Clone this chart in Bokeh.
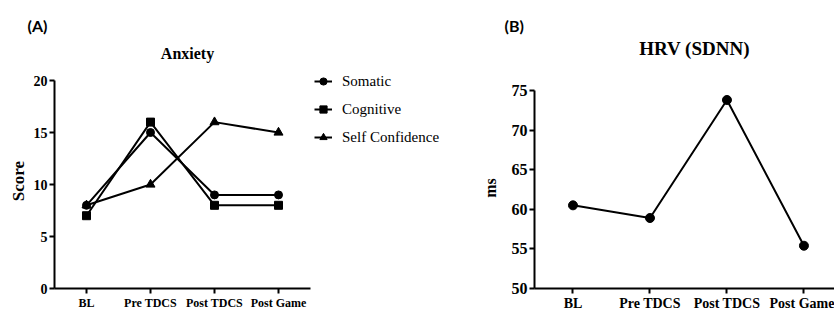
import numpy as np
from bokeh.plotting import figure
from bokeh.models import Range1d, FixedTicker, Label, Legend, LegendItem, Title
from bokeh.layouts import row
from bokeh.embed import file_html
from bokeh.resources import INLINE

# ---------------- data ----------------
categories = ["BL", "Pre TDCS", "Post TDCS", "Post Game"]
somatic = [8, 15, 9, 9]
cognitive = [7, 16, 8, 8]
self_confidence = [8, 10, 16, 15]
hrv_sdnn = [60.5, 58.9, 73.8, 55.4]
anxiety_ticks = [0, 5, 10, 15, 20]
hrv_ticks = [50, 55, 60, 65, 70, 75]

x = list(range(len(categories)))
SERIF = "Liberation Serif"
TNR = "Times New Roman"
SANS = "Lato"
NBSP = "\u00a0"


def style(p, xfs, yfs, ylabel, ylfs, yticks, ystand, xbounds, ybounds):
    p.outline_line_color = None
    p.xgrid.visible = False
    p.ygrid.visible = False
    p.background_fill_color = "white"
    p.border_fill_color = "white"
    for ax in (p.xaxis[0], p.yaxis[0]):
        ax.axis_line_width = 2
        ax.axis_line_color = "black"
        ax.major_tick_line_width = 2
        ax.major_tick_line_color = "black"
        ax.major_tick_out = 5
        ax.major_tick_in = 0
        ax.minor_tick_line_color = None
        ax.major_label_text_font = TNR
        ax.major_label_text_font_style = "bold"
        ax.major_label_text_color = "black"
        ax.major_label_standoff = 2
    p.xaxis[0].bounds = xbounds
    p.yaxis[0].bounds = ybounds
    p.xaxis[0].ticker = FixedTicker(ticks=x)
    p.xaxis[0].major_label_overrides = {i: c for i, c in enumerate(categories)}
    p.xaxis[0].major_label_text_font_size = xfs
    p.yaxis[0].ticker = FixedTicker(ticks=yticks)
    p.yaxis[0].major_label_text_font_size = yfs
    p.yaxis[0].axis_label = ylabel
    p.yaxis[0].axis_label_text_font = SERIF
    p.yaxis[0].axis_label_text_font_style = "bold"
    p.yaxis[0].axis_label_text_font_size = ylfs
    p.yaxis[0].axis_label_text_color = "black"
    p.yaxis[0].axis_label_standoff = ystand


def panel_title(text, offset):
    return Title(text=text, align="left", offset=offset, standoff=2,
                 text_font=SANS, text_font_style="bold", text_font_size="16px",
                 text_color="black")


def label(p, xx, yy, text, font, size):
    p.add_layout(Label(x=xx, y=yy, x_units="screen", y_units="screen", text=text,
                       text_font=font, text_font_style="bold", text_font_size=size,
                       text_align="center", text_baseline="middle", text_color="black"))


# ---------------- panel A ----------------
p1 = figure(width=478, height=315, x_range=Range1d(-0.5, 6.125), y_range=Range1d(0, 24.33),
            output_backend="svg", toolbar_location=None,
            title=panel_title("(A)", -27),
            min_border_left=54, min_border_right=0, min_border_top=35, min_border_bottom=27)
# trailing no-break spaces keep the rotated label centred on the drawn axis part
style(p1, "12px", "14px", "Score" + NBSP * 9, "17px", anxiety_ticks, 3, (-0.5, 3.5), (0, 20))

lw = 2
l1 = p1.line(x, somatic, line_width=lw, color="black")
s1 = p1.scatter(x, somatic, marker="circle", size=8, color="black")
l2 = p1.line(x, cognitive, line_width=lw, color="black")
s2 = p1.scatter(x, cognitive, marker="square", size=8, color="black")
l3 = p1.line(x, self_confidence, line_width=lw, color="black")
s3 = p1.scatter(x, self_confidence, marker="triangle", size=9, color="black")

legend = Legend(items=[LegendItem(label="Somatic", renderers=[l1, s1]),
                       LegendItem(label="Cognitive", renderers=[l2, s2]),
                       LegendItem(label="Self Confidence", renderers=[l3, s3])],
                location=(260, 141), orientation="vertical",
                border_line_color=None, background_fill_alpha=0,
                padding=0, margin=0, spacing=8,
                glyph_width=18, glyph_height=20, label_height=20,
                label_standoff=10, label_text_font=TNR,
                label_text_font_size="15px", label_text_color="black")
p1.add_layout(legend, "center")

label(p1, 133, 235.5, "Anxiety", SERIF, "16px")

# ---------------- panel B ----------------
p2 = figure(width=356, height=315, x_range=Range1d(-0.5, 3.397), y_range=Range1d(50, 81.94),
            output_backend="svg", toolbar_location=None,
            title=panel_title("(B)", -30),
            min_border_left=54, min_border_right=0, min_border_top=35, min_border_bottom=27)
style(p2, "14px", "16px", "ms" + NBSP * 13, "16px", hrv_ticks, 10, (-0.5, 3.5), (50, 75))

p2.line(x, hrv_sdnn, line_width=lw, color="black")
p2.scatter(x, hrv_sdnn, marker="circle", size=9, color="black")

label(p2, 160, 240, "HRV (SDNN)", SERIF, "19px")

layout = row(p1, p2)
open("out.html", "w").write(file_html(layout, INLINE))
